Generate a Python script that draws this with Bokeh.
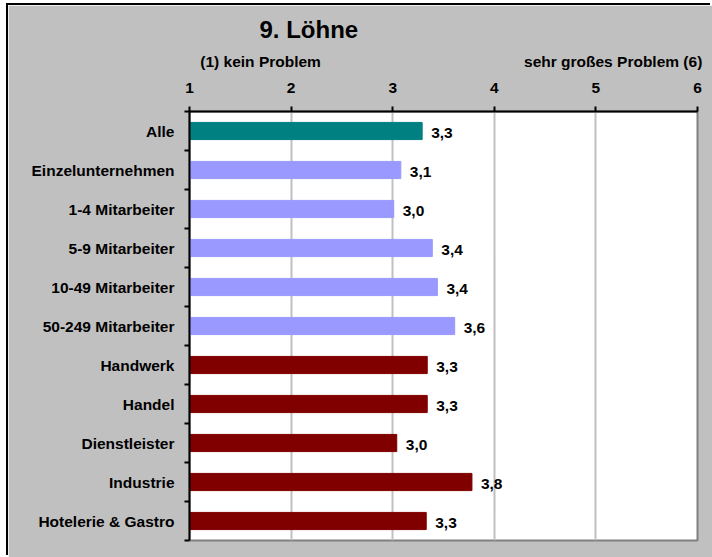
from bokeh.plotting import figure
from bokeh.models import Range1d, FixedTicker, LinearAxis, ColumnDataSource
from bokeh.core.properties import value
from bokeh.embed import file_html
from bokeh.resources import INLINE

# ---- data ----
categories = ["Alle", "Einzelunternehmen", "1-4 Mitarbeiter", "5-9 Mitarbeiter",
              "10-49 Mitarbeiter", "50-249 Mitarbeiter", "Handwerk", "Handel",
              "Dienstleister", "Industrie", "Hotelerie & Gastro"]
values = [3.29, 3.08, 3.01, 3.39, 3.44, 3.61, 3.34, 3.34, 3.04, 3.78, 3.33]
groups = ["Gesamt", "Größe", "Größe", "Größe", "Größe", "Größe",
          "Branche", "Branche", "Branche", "Branche", "Branche"]
x_ticks = [1, 2, 3, 4, 5, 6]
title_text = "9. Löhne"
scale_notes = ["(1) kein Problem", "sehr großes Problem (6)"]
note_positions = [1.70, 5.17]   # scale values under the note centres

group_colors = {"Gesamt": "#008080", "Größe": "#9999FF", "Branche": "#800000"}
FONT = "Liberation Sans"
FS = "15.5px"

n = len(categories)
ypos = [n - 1 - i for i in range(n)]
labels = [f"{v:.1f}".replace(".", ",") for v in values]
colors = [group_colors[g] for g in groups]

src = ColumnDataSource(dict(y=ypos, v=values, c=colors, lab=labels))

p = figure(width=704, height=552, output_backend="svg", toolbar_location=None,
           x_range=Range1d(1, 6), y_range=Range1d(-0.5, n - 0.5),
           x_axis_location="above",
           min_border_left=181, min_border_top=106, min_border_right=15,
           min_border_bottom=17)
p.styles = {"margin-left": "8px", "margin-top": "5px",
            "box-shadow": "-2px -2px 0px 0px #000000"}

p.border_fill_color = "#C0C0C0"
p.background_fill_color = "#FFFFFF"
p.outline_line_color = "#808080"
p.outline_line_width = 2

# title
p.title.text = title_text
p.title.align = "left"
p.title.offset = 70
p.title.standoff = 13
p.title.text_font = FONT
p.title.text_font_style = "bold"
p.title.text_font_size = "24px"
p.title.text_color = "#000000"

# grid
p.xgrid.ticker = FixedTicker(ticks=x_ticks[1:-1])
p.xgrid.grid_line_color = "#C0C0C0"
p.xgrid.grid_line_width = 2
p.ygrid.grid_line_color = None

# top axis
xa = p.xaxis[0]
xa.ticker = FixedTicker(ticks=x_ticks)
xa.axis_line_color = "#000000"
xa.axis_line_width = 2
xa.major_tick_line_color = "#000000"
xa.major_tick_line_width = 2
xa.major_tick_out = 5
xa.major_tick_in = 0
xa.minor_tick_line_color = None
xa.major_label_standoff = 14
xa.major_label_text_font = FONT
xa.major_label_text_font_style = "bold"
xa.major_label_text_font_size = FS
xa.major_label_text_color = "#000000"

# notes row (second axis above, labels only)
na = LinearAxis(ticker=FixedTicker(ticks=note_positions),
                major_label_overrides={pos: t for pos, t in zip(note_positions, scale_notes)})
na.axis_line_color = None
na.major_tick_line_color = None
na.minor_tick_line_color = None
na.major_tick_out = 0
na.major_tick_in = 0
na.major_label_standoff = 10
na.major_label_text_font = FONT
na.major_label_text_font_style = "bold"
na.major_label_text_font_size = FS
na.major_label_text_color = "#000000"
p.add_layout(na, "above")

# left axis
ya = p.yaxis[0]
ya.ticker = FixedTicker(ticks=ypos, minor_ticks=[k - 0.5 for k in range(n + 1)])
ya.major_label_overrides = {y: c for y, c in zip(ypos, categories)}
ya.axis_line_color = "#000000"
ya.axis_line_width = 2
ya.major_tick_line_color = None
ya.minor_tick_line_color = "#000000"
ya.minor_tick_line_width = 2
ya.minor_tick_out = 5
ya.minor_tick_in = 0
ya.major_label_standoff = 9
ya.major_label_text_font = FONT
ya.major_label_text_font_style = "bold"
ya.major_label_text_font_size = FS
ya.major_label_text_color = "#000000"

# bars
p.hbar(y="y", left=1, right="v", height=0.44, fill_color="c", line_color="c",
       source=src)

# value labels
p.text(x="v", y="y", text="lab", source=src, x_offset=9, y_offset=2,
       text_font=value(FONT), text_font_style="bold", text_font_size=FS,
       text_color="#000000", text_align="left", text_baseline="middle")

open("out.html", "w").write(file_html(p, INLINE))
